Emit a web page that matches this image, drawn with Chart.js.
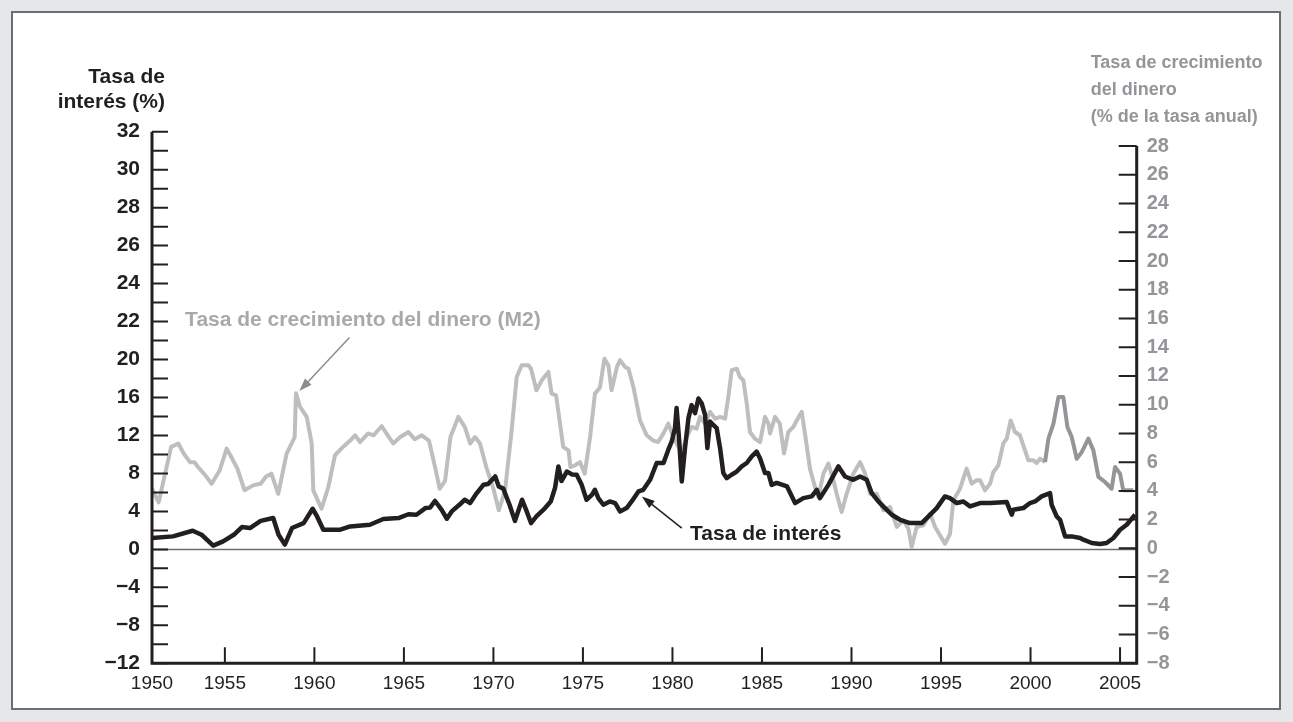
<!DOCTYPE html>
<html>
<head>
<meta charset="utf-8">
<title>Tasa de interés y tasa de crecimiento del dinero</title>
<script src="https://cdn.jsdelivr.net/npm/chart.js@4.4.1/dist/chart.umd.min.js"></script>
<style>
  html, body { margin: 0; padding: 0; background: #e6e7e8; }
  #panel { position: absolute; left: 11px; top: 11px; width: 1270px; height: 699px; box-sizing: border-box; background: #fff; border: 2px solid #6d6e71; }
  #chart { position: absolute; left: 0; top: 0; }
</style>
</head>
<body>
<div id="panel"></div>
<canvas id="chart" width="1293" height="722"></canvas>
<script>
// Tasa de interés (%), eje izquierdo
const rateYears = [
  1950.93, 1952.1, 1953.2, 1953.7, 1954.35, 1954.9, 1955.5, 1955.95, 1956.4, 1957.0,
  1957.7, 1958.0, 1958.35, 1958.75, 1959.4, 1959.9, 1960.15, 1960.5, 1961.45, 1962.0,
  1963.1, 1963.85, 1964.7, 1965.25, 1965.7, 1966.2, 1966.46, 1966.74, 1967.1, 1967.4,
  1967.67, 1968.1, 1968.4, 1968.7, 1969.07, 1969.44, 1969.7, 1970.1, 1970.3, 1970.55,
  1970.9, 1971.2, 1971.6, 1971.86, 1972.1, 1972.4, 1972.8, 1973.2, 1973.44, 1973.63,
  1973.8, 1974.1, 1974.4, 1974.65, 1974.93, 1975.2, 1975.5, 1975.67, 1975.86, 1976.14,
  1976.5, 1976.8, 1977.07, 1977.44, 1977.72, 1978.1, 1978.37, 1978.75, 1979.12, 1979.5,
  1979.77, 1979.96, 1980.14, 1980.23, 1980.38, 1980.52, 1980.7, 1980.89, 1981.07, 1981.26,
  1981.45, 1981.63, 1981.82, 1981.95, 1982.1, 1982.28, 1982.47, 1982.66, 1982.84, 1983.03,
  1983.3, 1983.59, 1983.87, 1984.15, 1984.43, 1984.7, 1984.89, 1985.17, 1985.36, 1985.54,
  1985.82, 1986.4, 1986.85, 1987.31, 1987.78, 1988.06, 1988.24, 1988.71, 1989.27, 1989.64,
  1990.1, 1990.48, 1990.85, 1991.13, 1991.5, 1991.87, 1992.25, 1992.71, 1993.27, 1993.92,
  1994.3, 1994.76, 1995.22, 1995.5, 1995.88, 1996.25, 1996.62, 1997.18, 1997.74, 1998.67,
  1998.95, 1999.04, 1999.6, 1999.97, 2000.25, 2000.62, 2001.09, 2001.18, 2001.46, 2001.65,
  2001.93, 2002.3, 2002.77, 2002.95, 2003.42, 2003.88, 2004.25, 2004.63, 2005.0, 2005.37,
  2005.84
];
const rateValues = [
  1.2, 1.37, 1.96, 1.54, 0.4, 0.84, 1.54, 2.35, 2.25, 3.0,
  3.3, 1.54, 0.5, 2.25, 2.77, 4.28, 3.47, 2.07, 2.07, 2.42,
  2.6, 3.2, 3.3, 3.7, 3.65, 4.35, 4.4, 5.1, 4.18, 3.23,
  4.0, 4.7, 5.23, 4.88, 5.93, 6.8, 6.88, 7.68, 6.63, 6.4,
  4.7, 3.0, 5.23, 4.0, 2.77, 3.47, 4.18, 5.05, 6.46, 8.74,
  7.2, 8.2, 7.9, 7.86, 6.8, 5.23, 5.75, 6.28, 5.4, 4.7,
  5.05, 4.88, 4.0, 4.35, 5.05, 6.1, 6.28, 7.33, 9.1, 9.1,
  10.5, 11.37, 12.77, 14.9, 11.37, 7.16, 10.67, 13.8, 15.2, 14.35,
  15.9, 15.4, 14.17, 10.67, 13.47, 13.12, 12.77, 10.67, 8.04, 7.5,
  7.86, 8.2, 8.74, 9.1, 9.8, 10.3, 9.6, 8.04, 8.04, 6.8,
  7.0, 6.63, 4.88, 5.4, 5.58, 6.28, 5.4, 6.8, 8.74, 7.68,
  7.33, 7.68, 7.33, 5.93, 5.05, 4.35, 3.65, 3.12, 2.77, 2.77,
  3.47, 4.35, 5.58, 5.4, 4.88, 5.05, 4.53, 4.88, 4.88, 4.98,
  3.65, 4.18, 4.35, 4.88, 5.05, 5.58, 5.93, 4.7, 3.47, 3.12,
  1.37, 1.37, 1.2, 1.02, 0.67, 0.56, 0.67, 1.2, 2.07, 2.6,
  3.65
];

// Tasa de crecimiento del dinero M2 (% anual), eje derecho
const m2Years = [
  1950.93, 1951.3, 1952.0, 1952.4, 1952.7, 1953.05, 1953.3, 1953.5, 1953.9, 1954.26,
  1954.7, 1955.1, 1955.3, 1955.7, 1956.1, 1956.6, 1957.0, 1957.3, 1957.6, 1957.98,
  1958.45, 1958.9, 1958.97, 1959.2, 1959.57, 1959.85, 1959.94, 1960.4, 1960.78, 1961.15,
  1961.6, 1962.0, 1962.27, 1962.55, 1963.0, 1963.3, 1963.76, 1964.4, 1964.8, 1965.25,
  1965.6, 1966.0, 1966.4, 1966.74, 1967.0, 1967.3, 1967.6, 1968.04, 1968.4, 1968.7,
  1968.97, 1969.25, 1969.6, 1970.0, 1970.3, 1970.65, 1971.0, 1971.3, 1971.58, 1971.95,
  1972.1, 1972.4, 1972.7, 1973.07, 1973.25, 1973.5, 1973.9, 1974.2, 1974.3, 1974.56,
  1974.84, 1975.1, 1975.4, 1975.67, 1975.95, 1976.2, 1976.42, 1976.6, 1976.9, 1977.07,
  1977.35, 1977.54, 1977.82, 1978.19, 1978.56, 1978.93, 1979.2, 1979.5, 1979.77, 1980.05,
  1980.33, 1980.52, 1980.8, 1981.07, 1981.35, 1981.54, 1981.82, 1982.1, 1982.38, 1982.66,
  1982.94, 1983.12, 1983.31, 1983.59, 1983.77, 1983.96, 1984.15, 1984.33, 1984.6, 1984.89,
  1985.17, 1985.36, 1985.45, 1985.73, 1986.0, 1986.23, 1986.47, 1986.75, 1986.94, 1987.22,
  1987.4, 1987.68, 1987.96, 1988.15, 1988.43, 1988.71, 1988.99, 1989.17, 1989.45, 1989.73,
  1990.1, 1990.48, 1990.76, 1991.04, 1991.41, 1991.78, 1992.15, 1992.53, 1992.9, 1993.18,
  1993.36, 1993.64, 1994.02, 1994.39, 1994.67, 1994.95, 1995.22, 1995.5, 1995.69, 1996.06,
  1996.43, 1996.71, 1996.99, 1997.18, 1997.46, 1997.74, 1997.92, 1998.2, 1998.48, 1998.67,
  1998.89, 1999.13, 1999.41, 1999.69, 1999.88, 2000.16, 2000.34, 2000.53, 2000.81, 2001.0,
  2001.28, 2001.56, 2001.83, 2002.06, 2002.3, 2002.58, 2002.86, 2003.23, 2003.51, 2003.79,
  2004.16, 2004.53, 2004.72, 2005.0, 2005.18, 2005.46, 2005.74
];
const m2Values = [
  4.15, 3.2, 7.06, 7.3, 6.6, 6.0, 6.0, 5.66, 5.1, 4.5,
  5.4, 6.94, 6.5, 5.55, 4.04, 4.4, 4.5, 5.0, 5.2, 3.8,
  6.6, 7.75, 10.8, 9.84, 9.15, 7.3, 4.04, 2.76, 4.27, 6.48,
  7.06, 7.5, 7.87, 7.4, 8.0, 7.87, 8.5, 7.3, 7.75, 8.1,
  7.6, 7.87, 7.5, 5.66, 4.15, 4.7, 7.75, 9.15, 8.45, 7.3,
  7.75, 7.3, 5.66, 4.15, 2.65, 4.04, 8.0, 11.93, 12.74, 12.74,
  12.5, 11.0, 11.7, 12.28, 10.77, 10.65, 7.06, 6.8, 5.66, 5.78,
  6.0, 5.2, 7.75, 10.77, 11.2, 13.2, 12.74, 11.0, 12.63, 13.1,
  12.63, 12.5, 11.23, 8.9, 7.87, 7.5, 7.4, 8.0, 8.68, 7.75,
  7.06, 6.7, 7.75, 8.45, 8.33, 9.15, 8.68, 9.5, 9.03, 9.15,
  9.03, 10.54, 12.4, 12.5, 11.93, 11.7, 10.07, 8.1, 7.64, 7.4,
  9.15, 8.68, 8.0, 9.15, 8.68, 6.6, 8.1, 8.45, 8.9, 9.5,
  8.0, 5.55, 4.27, 3.57, 5.2, 5.9, 4.74, 3.8, 2.53, 3.8,
  5.2, 6.0, 5.2, 3.8, 3.8, 2.65, 2.88, 1.49, 1.95, 1.37,
  0.1, 1.49, 1.6, 2.41, 1.49, 0.9, 0.32, 1.0, 3.34, 4.15,
  5.55, 4.5, 4.74, 4.74, 4.04, 4.5, 5.3, 5.78, 7.3, 7.64,
  8.9, 8.1, 7.87, 6.82, 6.13, 6.13, 5.94, 6.24, 6.0, 7.64,
  8.68, 10.54, 10.54, 8.45, 7.75, 6.24, 6.7, 7.64, 6.82, 4.97,
  4.62, 4.15, 5.66, 5.2, 4.04, 4.04, 4.04
];

// Etiquetas de los ejes
const xTickYears = [1950, 1955, 1960, 1965, 1970, 1975, 1980, 1985, 1990, 1995, 2000, 2005];
const leftTickLabels = [-12, -8, -4, 0, 4, 8, 12, 16, 20, 22, 24, 26, 28, 30, 32];
const rightTickLabels = [-8, -6, -4, -2, 0, 2, 4, 6, 8, 10, 12, 14, 16, 18, 20, 22, 24, 26, 28];

const FONT = '"Liberation Sans", Arial, Helvetica, sans-serif';
const INK = '#231f20';
const GRAY_TEXT = '#939598';
const M2_LIGHT = '#bcbec0';
const M2_DARK = '#939598';
const X_MIN = 1950.93;
const X_MAX = 2005.93;
const M2_DARK_FROM = 2000.8;

const fmt = v => (v < 0 ? '\u2212' + Math.abs(v) : String(v));
const pts = (xs, ys) => xs.map((x, i) => ({ x, y: ys[i] }));

function arrow(ctx, x1, y1, x2, y2, color) {
  const ang = Math.atan2(y2 - y1, x2 - x1);
  const len = 13, half = 4.5;
  const c = Math.cos(ang), s = Math.sin(ang);
  ctx.strokeStyle = color;
  ctx.fillStyle = color;
  ctx.lineWidth = 1.5;
  ctx.beginPath();
  ctx.moveTo(x1, y1);
  ctx.lineTo(x2 - c * len * 0.8, y2 - s * len * 0.8);
  ctx.stroke();
  ctx.beginPath();
  ctx.moveTo(x2, y2);
  ctx.lineTo(x2 - c * len + s * half, y2 - s * len - c * half);
  ctx.lineTo(x2 - c * len - s * half, y2 - s * len + c * half);
  ctx.closePath();
  ctx.fill();
}

const axisDecor = {
  id: 'axisDecor',
  beforeDatasetsDraw(chart) {
    const { ctx, chartArea: a, scales: { y } } = chart;
    const y0 = y.getPixelForValue(0);
    ctx.save();
    ctx.strokeStyle = '#6d6e71';
    ctx.lineWidth = 1.5;
    ctx.beginPath();
    ctx.moveTo(a.left, y0);
    ctx.lineTo(a.right, y0);
    ctx.stroke();
    ctx.restore();
  },
  afterDatasetsDraw(chart) {
    const { ctx, chartArea: a, scales: { x, y, y2 } } = chart;
    ctx.save();

    // marcas hacia dentro
    ctx.strokeStyle = INK;
    ctx.lineWidth = 2;
    ctx.beginPath();
    for (let v = y.min; v <= y.max; v += 2) {
      const p = y.getPixelForValue(v);
      ctx.moveTo(a.left, p);
      ctx.lineTo(a.left + 16, p);
    }
    rightTickLabels.forEach(v => {
      const p = y2.getPixelForValue(v);
      ctx.moveTo(a.right - 18, p);
      ctx.lineTo(a.right, p);
    });
    xTickYears.slice(1).forEach(yr => {
      const p = x.getPixelForValue(yr);
      ctx.moveTo(p, a.bottom);
      ctx.lineTo(p, a.bottom - 16);
    });
    ctx.stroke();

    // ejes
    ctx.lineWidth = 3;
    ctx.beginPath();
    ctx.moveTo(a.left, a.top);
    ctx.lineTo(a.left, a.bottom);
    ctx.lineTo(a.right, a.bottom);
    ctx.lineTo(a.right, y2.getPixelForValue(28));
    ctx.stroke();

    // títulos de los ejes
    ctx.textBaseline = 'alphabetic';
    ctx.fillStyle = INK;
    ctx.font = 'bold 21px ' + FONT;
    ctx.textAlign = 'right';
    ctx.fillText('Tasa de', a.left + 13, 82.7);
    ctx.fillText('interés (%)', a.left + 13, 108.3);

    ctx.fillStyle = GRAY_TEXT;
    ctx.font = 'bold 18px ' + FONT;
    ctx.textAlign = 'left';
    ctx.fillText('Tasa de crecimiento', a.right - 46, 68.3);
    ctx.fillText('del dinero', a.right - 46, 95);
    ctx.fillText('(% de la tasa anual)', a.right - 46, 121.5);

    // anotaciones
    ctx.font = 'bold 21px ' + FONT;
    ctx.fillStyle = '#a7a9ac';
    ctx.fillText('Tasa de crecimiento del dinero (M2)', x.getPixelForValue(1952.78), y2.getPixelForValue(15.5));
    arrow(ctx, x.getPixelForValue(1961.96), y2.getPixelForValue(14.67),
      x.getPixelForValue(1959.16), y2.getPixelForValue(10.95), '#8a8c8e');

    ctx.fillStyle = INK;
    ctx.fillText('Tasa de interés', x.getPixelForValue(1980.98), y.getPixelForValue(1.0));
    arrow(ctx, x.getPixelForValue(1980.52), y.getPixelForValue(2.24),
      x.getPixelForValue(1978.29), y.getPixelForValue(5.58), INK);

    ctx.restore();
  }
};

const chart = new Chart(document.getElementById('chart'), {
  type: 'line',
  data: {
    datasets: [
      {
        label: 'Tasa de interés',
        data: pts(rateYears, rateValues),
        yAxisID: 'y',
        borderColor: INK,
        borderWidth: 4.5,
        pointRadius: 0,
        tension: 0,
        borderJoinStyle: 'round'
      },
      {
        label: 'Tasa de crecimiento del dinero (M2)',
        data: pts(m2Years, m2Values),
        yAxisID: 'y2',
        borderColor: M2_LIGHT,
        borderWidth: 4,
        pointRadius: 0,
        tension: 0,
        borderJoinStyle: 'round',
        segment: {
          borderColor: c => (c.p0.parsed.x >= M2_DARK_FROM ? M2_DARK : undefined)
        }
      }
    ]
  },
  options: {
    responsive: false,
    devicePixelRatio: 1,
    animation: false,
    layout: { padding: { top: 131.7, left: 0, right: 0, bottom: 0 } },
    plugins: {
      legend: { display: false },
      tooltip: { enabled: false }
    },
    scales: {
      x: {
        type: 'linear',
        min: X_MIN,
        max: X_MAX,
        afterBuildTicks: s => { s.ticks = xTickYears.map(yr => ({ value: Math.max(yr, X_MIN) })); },
        afterFit: s => { s.height = 58.7; },
        grid: { display: false, drawTicks: false },
        border: { display: false },
        ticks: {
          autoSkip: false,
          maxRotation: 0,
          padding: 9,
          color: INK,
          font: { family: FONT, size: 19 },
          callback: (v, i) => String(xTickYears[i])
        }
      },
      y: {
        position: 'left',
        min: -12,
        max: 44,
        afterBuildTicks: s => { s.ticks = leftTickLabels.map((_, i) => ({ value: -12 + 4 * i })); },
        afterFit: s => { s.width = 152; },
        grid: { display: false, drawTicks: false },
        border: { display: false },
        ticks: {
          autoSkip: false,
          padding: 12,
          color: INK,
          font: { family: FONT, size: 21, weight: 'bold' },
          callback: (v, i) => fmt(leftTickLabels[i])
        }
      },
      y2: {
        position: 'right',
        min: -8,
        max: 29,
        afterBuildTicks: s => { s.ticks = rightTickLabels.map(v => ({ value: v })); },
        afterFit: s => { s.width = 156.3; },
        grid: { display: false, drawTicks: false },
        border: { display: false },
        ticks: {
          autoSkip: false,
          padding: 10,
          color: GRAY_TEXT,
          font: { family: FONT, size: 20, weight: 'bold' },
          callback: (v, i) => fmt(rightTickLabels[i])
        }
      }
    }
  },
  plugins: [axisDecor]
});
</script>
</body>
</html>
